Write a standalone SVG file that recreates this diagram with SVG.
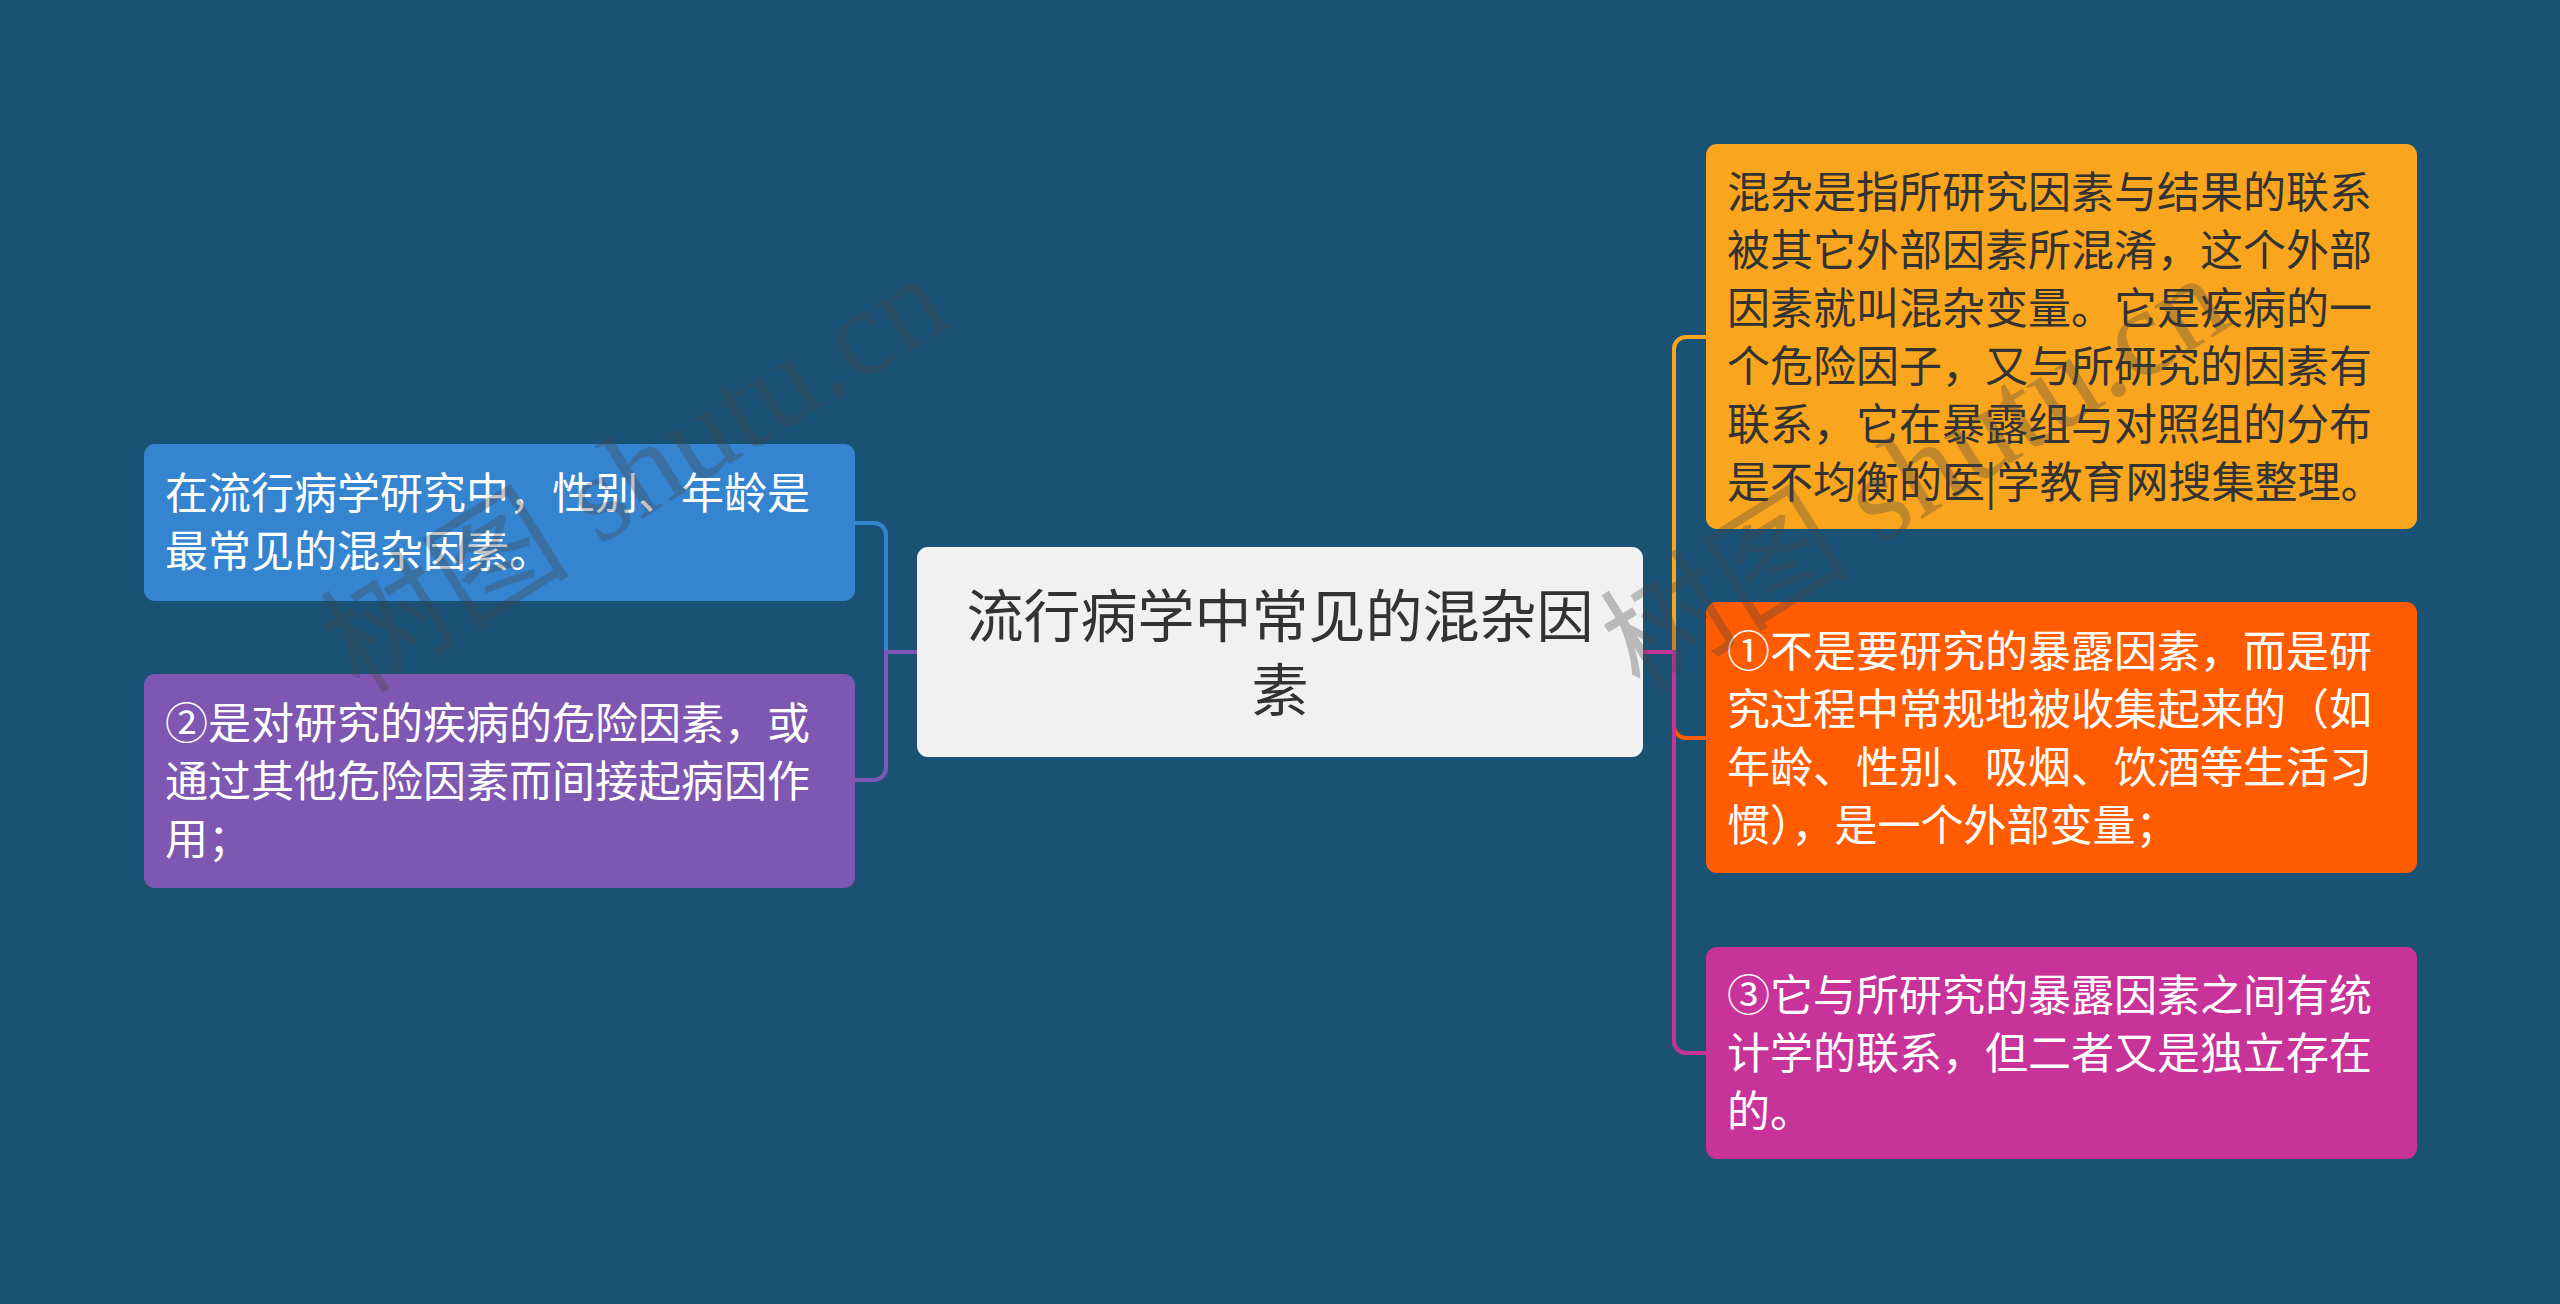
<svg xmlns="http://www.w3.org/2000/svg" width="2560" height="1304" viewBox="0 0 2560 1304">
<style>
.t{font-family:"Noto Sans CJK SC","Noto Sans",sans-serif;font-size:43px;fill:#ffffff}
.dark{fill:#333333}
.c{font-family:"Noto Sans CJK SC","Noto Sans",sans-serif;font-size:57px;fill:#333333;text-anchor:middle}
.ln{fill:none;stroke-width:4}
.wm{font-family:"Liberation Serif","Noto Sans CJK SC",serif;font-size:125px;fill:#444444;fill-opacity:0.32}
</style>
<rect x="0" y="0" width="2560" height="1304" fill="#1a5276"/>
<g id="connectors">
<path class="ln" stroke="#3584cf" d="M917 652 H886 V535 A12 12 0 0 0 874 523 H855"/>
<path class="ln" stroke="#7e57b2" d="M917 652 H886 V768 A12 12 0 0 1 874 780 H855"/>
<path class="ln" stroke="#f9a61e" d="M1643 652 H1674 V349 A12 12 0 0 1 1686 337 H1706"/>
<path class="ln" stroke="#ff5c02" d="M1643 652 H1674 V726 A12 12 0 0 0 1686 738 H1706"/>
<path class="ln" stroke="#c8339a" d="M1643 652 H1674 V1041 A12 12 0 0 0 1686 1053 H1706"/>
</g>
<g id="center">
<rect x="917" y="547" width="726" height="210" rx="11" fill="#f1f1f1"/>
<text class="c" x="1280" y="637">流行病学中常见的混杂因</text>
<text class="c" x="1280" y="711">素</text>
</g>
<g id="left1">
<rect x="144" y="444" width="711" height="157" rx="11" fill="#3584cf"/>
<text class="t" x="165" y="509">在流行病学研究中，性别、年龄是</text>
<text class="t" x="165" y="567">最常见的混杂因素。</text>
</g>
<g id="left2">
<rect x="144" y="674" width="711" height="214" rx="11" fill="#7e57b2"/>
<text class="t" x="165" y="739">②是对研究的疾病的危险因素，或</text>
<text class="t" x="165" y="797">通过其他危险因素而间接起病因作</text>
<text class="t" x="165" y="855">用；</text>
</g>
<g id="right1">
<rect x="1706" y="144" width="711" height="385" rx="11" fill="#f9a61e"/>
<text class="t dark" x="1727" y="207.5">混杂是指所研究因素与结果的联系</text>
<text class="t dark" x="1727" y="265.5">被其它外部因素所混淆，这个外部</text>
<text class="t dark" x="1727" y="323.5">因素就叫混杂变量。它是疾病的一</text>
<text class="t dark" x="1727" y="381.5">个危险因子，又与所研究的因素有</text>
<text class="t dark" x="1727" y="439.5">联系，它在暴露组与对照组的分布</text>
<text class="t dark" x="1727" y="497.5">是不均衡的医|学教育网搜集整理。</text>
</g>
<g id="right2">
<rect x="1706" y="602" width="711" height="271" rx="11" fill="#ff5c02"/>
<text class="t" x="1727" y="666.5">①不是要研究的暴露因素，而是研</text>
<text class="t" x="1727" y="724.5">究过程中常规地被收集起来的（如</text>
<text class="t" x="1727" y="782.5">年龄、性别、吸烟、饮酒等生活习</text>
<text class="t" x="1727" y="840.5">惯），是一个外部变量；</text>
</g>
<g id="right3">
<rect x="1706" y="947" width="711" height="212" rx="11" fill="#c8339a"/>
<text class="t" x="1727" y="1011">③它与所研究的暴露因素之间有统</text>
<text class="t" x="1727" y="1069">计学的联系，但二者又是独立存在</text>
<text class="t" x="1727" y="1127">的。</text>
</g>
<g id="watermarks">
<text class="wm" transform="translate(360 695) rotate(-32)">树图 shutu.cn</text>
<text class="wm" transform="translate(1640 695) rotate(-32)">树图 shutu.cn</text>
</g>
</svg>
